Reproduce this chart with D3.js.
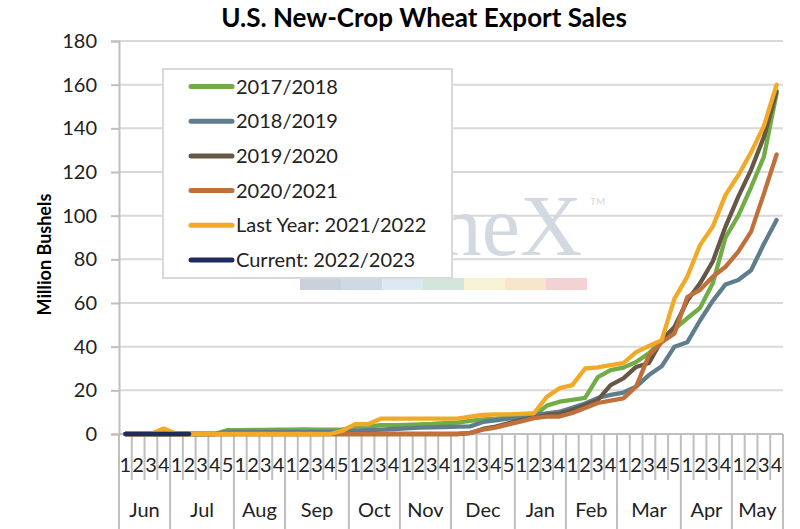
<!DOCTYPE html>
<html>
<head>
<meta charset="utf-8">
<script src="https://cdn.jsdelivr.net/npm/d3@7"></script>
<style>
  body { margin: 0; background: #fff; }
  svg { display: block; font-family: Lato, "Liberation Sans", sans-serif; }
</style>
</head>
<body>
<svg id="chart" width="800" height="529"></svg>
<script>
// month labels and how many weeks each one has
const months = ["Jun", "Jul", "Aug", "Sep", "Oct", "Nov", "Dec", "Jan", "Feb", "Mar", "Apr", "May"];
const weeksPerMonth = [4, 5, 4, 5, 4, 4, 5, 4, 4, 5, 4, 4];
const yTicks = [0, 20, 40, 60, 80, 100, 120, 140, 160, 180];

// cumulative sales, million bushels, one value per week
const s2017 = [0, 0, 0, 0, 0, 0, 0, 0, 1.8, 1.8, 1.9, 1.9, 2, 2, 2.1, 2, 2, 2, 3.4, 3.4, 4.1, 4.1, 4.2, 4.4, 4.6, 5,
  5.2, 6, 6.7, 7, 7.5, 7.9, 8.3, 13, 14.8, 15.6, 16.5, 26, 29.3, 30.4, 33, 37, 43, 48, 53, 57.7, 69, 90, 100, 113, 127, 156];
const s2018 = [0, 0, 0, 0, 0, 0, 0, 0, 1, 1, 1, 1, 1, 1, 1, 1, 1, 1, 1.5, 1.8, 2, 2.3, 2.6, 2.9, 3, 3.2,
  3.4, 3.5, 5.5, 6.3, 7, 7.3, 8.7, 9.5, 10.2, 12, 14, 16.5, 17.9, 19, 21.7, 27, 31, 40, 42, 52, 61, 68.5, 70.5, 75, 87, 98];
const s2019 = [0, 0, 0, 0, 0, 0, 0, 0, 0, 0, 0, 0, 0, 0, 0, 0, 0, 0, 0, 0, 0, 0, 0, 0, 0, 0,
  0, 0.4, 2.3, 3.4, 4.9, 6.4, 7.5, 8.7, 9.2, 11, 13.3, 15.6, 22.4, 25.5, 30.7, 32.5, 43, 49, 61, 69, 79, 95, 108.7, 121, 136, 157];
const s2020 = [0, 0, 0, 0, 0, 0, 0, 0, 0, 0, 0, 0, 0, 0, 0, 0, 0, 0, 0, 0, 0, 0, 0, 0, 0, 0,
  0, 0.5, 2, 2.9, 4.4, 5.8, 7.3, 8, 8, 9.6, 11.9, 14.2, 15.3, 16.3, 21.7, 36, 42, 46, 62.7, 66, 72, 76.6, 83.5, 92.7, 110, 128];
const s2021 = [0, 0, 0, 2.5, 0, 0, 0, 0, 0, 0, 0, 0, 0, 0, 0, 0, 0, 1.5, 4.5, 4.5, 7, 7, 7, 7, 7, 7,
  7, 8, 8.7, 9, 9, 9.2, 9.5, 17, 21, 22.4, 30, 30.5, 31.5, 32.5, 37.5, 40.3, 43, 62, 72, 86.5, 95, 109.5, 118.5, 129, 141, 160];
const s2022 = [0, 0, 0, 0, 0, 0];

const series = [
  { name: "2017/2018", values: s2017, color: "#70ad47" },
  { name: "2018/2019", values: s2018, color: "#5f7d8c" },
  { name: "2019/2020", values: s2019, color: "#665747" },
  { name: "2020/2021", values: s2020, color: "#c0703a" },
  { name: "Last Year: 2021/2022", values: s2021, color: "#f2a927" },
  { name: "Current: 2022/2023", values: s2022, color: "#1f2b5e" }
];

// one category per week, label is the week number inside its month
const weeks = [];
months.forEach((m, mi) => {
  for (let w = 1; w <= weeksPerMonth[mi]; w++) weeks.push({ key: m + w, week: w, month: m });
});

const svg = d3.select("#chart");
const plotL = 119, plotR = 783, plotT = 41, plotB = 434;

const x = d3.scaleBand()
  .domain(weeks.map(d => d.key))
  .range([plotL, plotR])
  .padding(0);
const y = d3.scaleLinear()
  .domain([0, 180])
  .range([plotB, plotT]);

// title
svg.append("text")
  .attr("x", 424).attr("y", 27)
  .attr("text-anchor", "middle")
  .attr("font-size", 26).attr("font-weight", "bold")
  .attr("fill", "#000")
  .text("U.S. New-Crop Wheat Export Sales");

// y axis title
svg.append("text")
  .attr("transform", "translate(51," + ((plotT + plotB) / 2 + 17) + ") rotate(-90)")
  .attr("text-anchor", "middle")
  .attr("font-size", 18).attr("font-weight", "bold")
  .attr("fill", "#000")
  .text("Million Bushels");

// gridlines
svg.append("g")
  .selectAll("line")
  .data(yTicks.filter(d => d > 0))
  .join("line")
  .attr("x1", plotL).attr("x2", plotR)
  .attr("y1", d => y(d)).attr("y2", d => y(d))
  .attr("stroke", "#d9d9d9").attr("stroke-width", 2);

// y axis
const yAxis = svg.append("g")
  .attr("transform", "translate(" + plotL + ",0)")
  .call(d3.axisLeft(y).tickValues(yTicks).tickSize(8).tickPadding(14));
yAxis.select(".domain").attr("stroke", "#bfbfbf").attr("stroke-width", 2);
yAxis.selectAll(".tick line").attr("stroke", "#bfbfbf").attr("stroke-width", 2);
yAxis.selectAll(".tick text")
  .attr("font-size", 20).attr("fill", "#222")
  .attr("font-family", "Lato, 'Liberation Sans', sans-serif");

// watermark
const wm = svg.append("g");
wm.append("text")
  .attr("x", 582).attr("y", 255)
  .attr("text-anchor", "end")
  .attr("font-family", "'Liberation Serif', serif")
  .attr("font-size", 86)
  .attr("fill", "#d3d9e1")
  .text("neX");
wm.append("text")
  .attr("x", 590).attr("y", 205)
  .attr("font-size", 10).attr("fill", "#d3d9e1")
  .text("TM");
const stripe = ["#cbd1da", "#ced9e5", "#dde9f2", "#d3e4da", "#f7f2d6", "#f9e5cb", "#f2d2d3"];
wm.selectAll("rect")
  .data(stripe)
  .join("rect")
  .attr("x", (d, i) => 300 + i * 41)
  .attr("y", 278)
  .attr("width", 41).attr("height", 12)
  .attr("fill", d => d);

// x axis: week numbers
const xAxis = svg.append("g")
  .attr("transform", "translate(0," + plotB + ")")
  .call(d3.axisBottom(x).tickSize(0).tickPadding(24).tickFormat((d, i) => weeks[i].week));
xAxis.select(".domain").remove();
xAxis.selectAll(".tick text")
  .attr("font-size", 20).attr("fill", "#222")
  .attr("font-family", "Lato, 'Liberation Sans', sans-serif");

svg.append("line")
  .attr("x1", plotL).attr("x2", plotR)
  .attr("y1", plotB).attr("y2", plotB)
  .attr("stroke", "#bfbfbf").attr("stroke-width", 2);

// short separators between weeks, long ones between months
const monthStarts = [];
let acc = 0;
weeksPerMonth.forEach(n => { monthStarts.push(acc); acc += n; });
const boundaries = d3.range(weeks.length + 1);
svg.append("g")
  .selectAll("line")
  .data(boundaries)
  .join("line")
  .attr("x1", i => plotL + i * x.bandwidth())
  .attr("x2", i => plotL + i * x.bandwidth())
  .attr("y1", plotB)
  .attr("y2", i => (monthStarts.includes(i) || i === weeks.length) ? 529 : 480)
  .attr("stroke", "#bfbfbf").attr("stroke-width", 2);

// month labels
svg.append("g")
  .selectAll("text")
  .data(months)
  .join("text")
  .attr("x", (m, mi) => plotL + (monthStarts[mi] + weeksPerMonth[mi] / 2) * x.bandwidth())
  .attr("y", 517)
  .attr("text-anchor", "middle")
  .attr("font-size", 20).attr("fill", "#222")
  .text(d => d);

// lines
const line = d3.line()
  .x((d, i) => x(weeks[i].key) + x.bandwidth() / 2)
  .y(d => y(d));

svg.append("g")
  .selectAll("path")
  .data(series)
  .join("path")
  .attr("d", d => line(d.values))
  .attr("fill", "none")
  .attr("stroke", d => d.color)
  .attr("stroke-width", 4.3)
  .attr("stroke-linejoin", "round")
  .attr("stroke-linecap", "round");

// legend
const lg = svg.append("g");
lg.append("rect")
  .attr("x", 163).attr("y", 69)
  .attr("width", 289).attr("height", 209)
  .attr("fill", "#fff")
  .attr("stroke", "#d9d9d9").attr("stroke-width", 2);
const items = lg.selectAll("g.item")
  .data(series)
  .join("g")
  .attr("class", "item")
  .attr("transform", (d, i) => "translate(0," + (86.5 + i * 34.7) + ")");
items.append("line")
  .attr("x1", 191).attr("x2", 232)
  .attr("stroke", d => d.color)
  .attr("stroke-width", 5)
  .attr("stroke-linecap", "round");
items.append("text")
  .attr("x", 236).attr("y", 7)
  .attr("font-size", 20).attr("fill", "#222")
  .text(d => d.name);
</script>
</body>
</html>
